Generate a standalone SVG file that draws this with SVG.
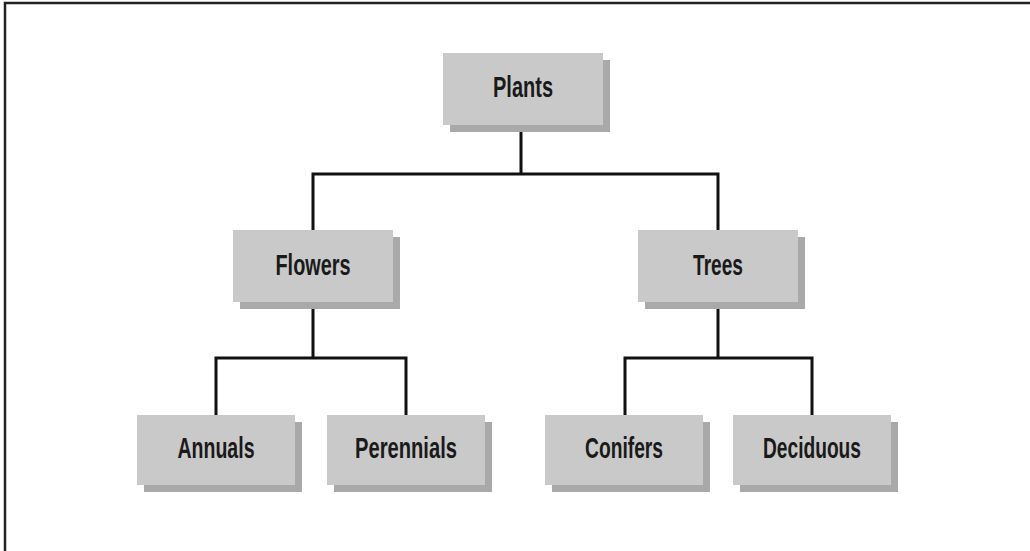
<svg xmlns="http://www.w3.org/2000/svg" width="1030" height="551" viewBox="0 0 1030 551">
<style>
.shadow{fill:#a9a9a9}
.box{fill:#c9c9c9}
.lbl{font-family:"Liberation Sans Narrow","Liberation Sans",Arial,sans-serif;font-weight:bold;font-size:30px;fill:#1a1a1a;text-anchor:middle}
.conn{fill:none;stroke:#111;stroke-width:3}
</style>
<rect width="1030" height="551" fill="#fff"/>
<path d="M5,551 V3 H1030" fill="none" stroke="#222" stroke-width="2.5"/>
<g id="connectors">
<path class="conn" d="M521,125 V174 M313,230 V174 H718 V230"/>
<path class="conn" d="M313,302 V358 M216,415 V358 H406 V415"/>
<path class="conn" d="M718,302 V358 M625,415 V358 H812 V415"/>
</g>
<g id="plants"><rect class="shadow" x="450" y="60" width="160" height="72"/><rect class="box" x="443" y="53" width="160" height="72"/><text class="lbl" x="523" y="97" textLength="60" lengthAdjust="spacingAndGlyphs">Plants</text></g>
<g id="flowers"><rect class="shadow" x="240" y="237" width="160" height="72"/><rect class="box" x="233" y="230" width="160" height="72"/><text class="lbl" x="313" y="275" textLength="75" lengthAdjust="spacingAndGlyphs">Flowers</text></g>
<g id="trees"><rect class="shadow" x="645" y="237" width="160" height="72"/><rect class="box" x="638" y="230" width="160" height="72"/><text class="lbl" x="718" y="275" textLength="50" lengthAdjust="spacingAndGlyphs">Trees</text></g>
<g id="annuals"><rect class="shadow" x="144" y="422" width="158" height="70"/><rect class="box" x="137" y="415" width="158" height="70"/><text class="lbl" x="216" y="458" textLength="77" lengthAdjust="spacingAndGlyphs">Annuals</text></g>
<g id="perennials"><rect class="shadow" x="334" y="422" width="158" height="70"/><rect class="box" x="327" y="415" width="158" height="70"/><text class="lbl" x="406" y="458" textLength="102" lengthAdjust="spacingAndGlyphs">Perennials</text></g>
<g id="conifers"><rect class="shadow" x="552" y="422" width="158" height="70"/><rect class="box" x="545" y="415" width="158" height="70"/><text class="lbl" x="624" y="458" textLength="78" lengthAdjust="spacingAndGlyphs">Conifers</text></g>
<g id="deciduous"><rect class="shadow" x="740" y="422" width="158" height="70"/><rect class="box" x="733" y="415" width="158" height="70"/><text class="lbl" x="812" y="458" textLength="98" lengthAdjust="spacingAndGlyphs">Deciduous</text></g>
</svg>
